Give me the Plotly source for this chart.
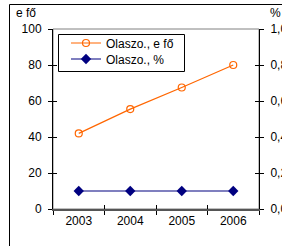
import plotly.graph_objects as go

years = ["2003", "2004", "2005", "2006"]
efo_values = [42, 55.5, 67.5, 80]
pct_values = [0.1, 0.1, 0.1, 0.1]
left_ticks = [0, 20, 40, 60, 80, 100]
right_ticks = [0.0, 0.2, 0.4, 0.6, 0.8, 1.0]
right_labels = ["0,0", "0,2", "0,4", "0,6", "0,8", "1,0"]
series_names = ["Olaszo., e fő", "Olaszo., %"]

W, H = 282, 246
L, R, T, B = 53, 23, 29, 37
pw, ph = W - L - R, H - T - B

def px_x(p):
    return (p - L) / pw

def px_y(p):
    return (H - B - p) / ph

FONT = "Liberation Sans, Arial, sans-serif"
FS = 12

fig = go.Figure()
fig.add_trace(go.Scatter(
    x=years, y=efo_values, name=series_names[0], mode="lines+markers",
    line=dict(color="#FF6600", width=1.2),
    marker=dict(symbol="circle-open", size=7, color="#FF6600", line=dict(width=1.2)),
    xaxis="x", yaxis="y", legend="legend"))
fig.add_trace(go.Scatter(
    x=years, y=pct_values, name=series_names[1], mode="lines+markers",
    line=dict(color="#000080", width=1.2),
    marker=dict(symbol="diamond", size=8, color="#000080"),
    xaxis="x", yaxis="y2", legend="legend2"))
# helper traces for the inside halves of the crossing ticks
fig.add_trace(go.Scatter(x=years, y=efo_values, xaxis="x2", yaxis="y3", mode="none",
                         showlegend=False, hoverinfo="skip"))
fig.add_trace(go.Scatter(x=years, y=pct_values, xaxis="x2", yaxis="y4", mode="none",
                         showlegend=False, hoverinfo="skip"))

tickfont = dict(family=FONT, size=FS, color="black")
legend_common = dict(xanchor="left", yanchor="middle", borderwidth=0,
                     bgcolor="rgba(0,0,0,0)", font=dict(family=FONT, size=FS),
                     itemwidth=30)

fig.update_layout(
    width=W, height=H,
    margin=dict(l=L, r=R, t=T, b=B, pad=0),
    paper_bgcolor="white", plot_bgcolor="white",
    font=dict(family=FONT, size=FS, color="black"),
    showlegend=True,
    legend=dict(x=px_x(66), y=px_y(43), **legend_common),
    legend2=dict(x=px_x(66), y=px_y(59), **legend_common),
    xaxis=dict(type="category", range=[-0.5, 3.5], tickson="boundaries",
               ticks="outside", ticklen=4, tickcolor="black",
               showline=True, linecolor="#555555", linewidth=2,
               showgrid=False, zeroline=False, tickfont=tickfont,
               automargin=False, fixedrange=True),
    xaxis2=dict(type="category", range=[-0.5, 3.5], tickson="boundaries",
                overlaying="x", anchor="y3", side="bottom",
                ticks="inside", ticklen=4, tickcolor="black",
                showticklabels=False, showline=False, showgrid=False,
                zeroline=False, automargin=False),
    yaxis=dict(range=[0, 100], tickvals=left_ticks, ticks="outside", ticklen=4,
               tickcolor="black", showline=True, linecolor="black", linewidth=1,
               showgrid=False, zeroline=False, tickfont=tickfont,
               ticklabelstandoff=4, automargin=False),
    yaxis2=dict(range=[0, 1], tickvals=right_ticks, ticktext=right_labels,
                overlaying="y", side="right", anchor="x",
                ticks="outside", ticklen=4, tickcolor="black",
                showline=True, linecolor="black", linewidth=1,
                showgrid=False, zeroline=False, tickfont=tickfont,
                ticklabelstandoff=4, automargin=False),
    yaxis3=dict(range=[0, 100], tickvals=left_ticks, overlaying="y", side="left",
                anchor="x2", ticks="inside", ticklen=4, tickcolor="black",
                showticklabels=False, showline=False, showgrid=False,
                zeroline=False, automargin=False),
    yaxis4=dict(range=[0, 1], tickvals=right_ticks, overlaying="y", side="right",
                anchor="x2", ticks="inside", ticklen=4, tickcolor="black",
                showticklabels=False, showline=False, showgrid=False,
                zeroline=False, automargin=False),
    shapes=[
        dict(type="rect", xref="paper", yref="paper", x0=0, x1=1, y0=0, y1=1,
             line=dict(color="#808080", width=1), layer="below"),
        dict(type="rect", xref="paper", yref="paper",
             x0=px_x(9.5), x1=px_x(300), y0=px_y(270), y1=px_y(4.5),
             line=dict(color="black", width=1), layer="above"),
        # legend frame
        dict(type="rect", xref="paper", yref="paper",
             x0=px_x(58.5), x1=px_x(184.5), y0=px_y(71.5), y1=px_y(34.5),
             line=dict(color="black", width=1), fillcolor="white", layer="above"),
    ],
    annotations=[
        dict(text="e fő", xref="paper", yref="paper", x=px_x(14), y=px_y(13),
             xanchor="left", yanchor="middle", showarrow=False,
             font=dict(family=FONT, size=FS)),
        dict(text="%", xref="paper", yref="paper", x=px_x(268), y=px_y(13),
             xanchor="left", yanchor="middle", showarrow=False,
             font=dict(family=FONT, size=FS)),
    ],
)

fig.write_html("out.html", config={"displayModeBar": False},
               post_script="document.body.style.margin='0';document.body.style.overflow='hidden';")
